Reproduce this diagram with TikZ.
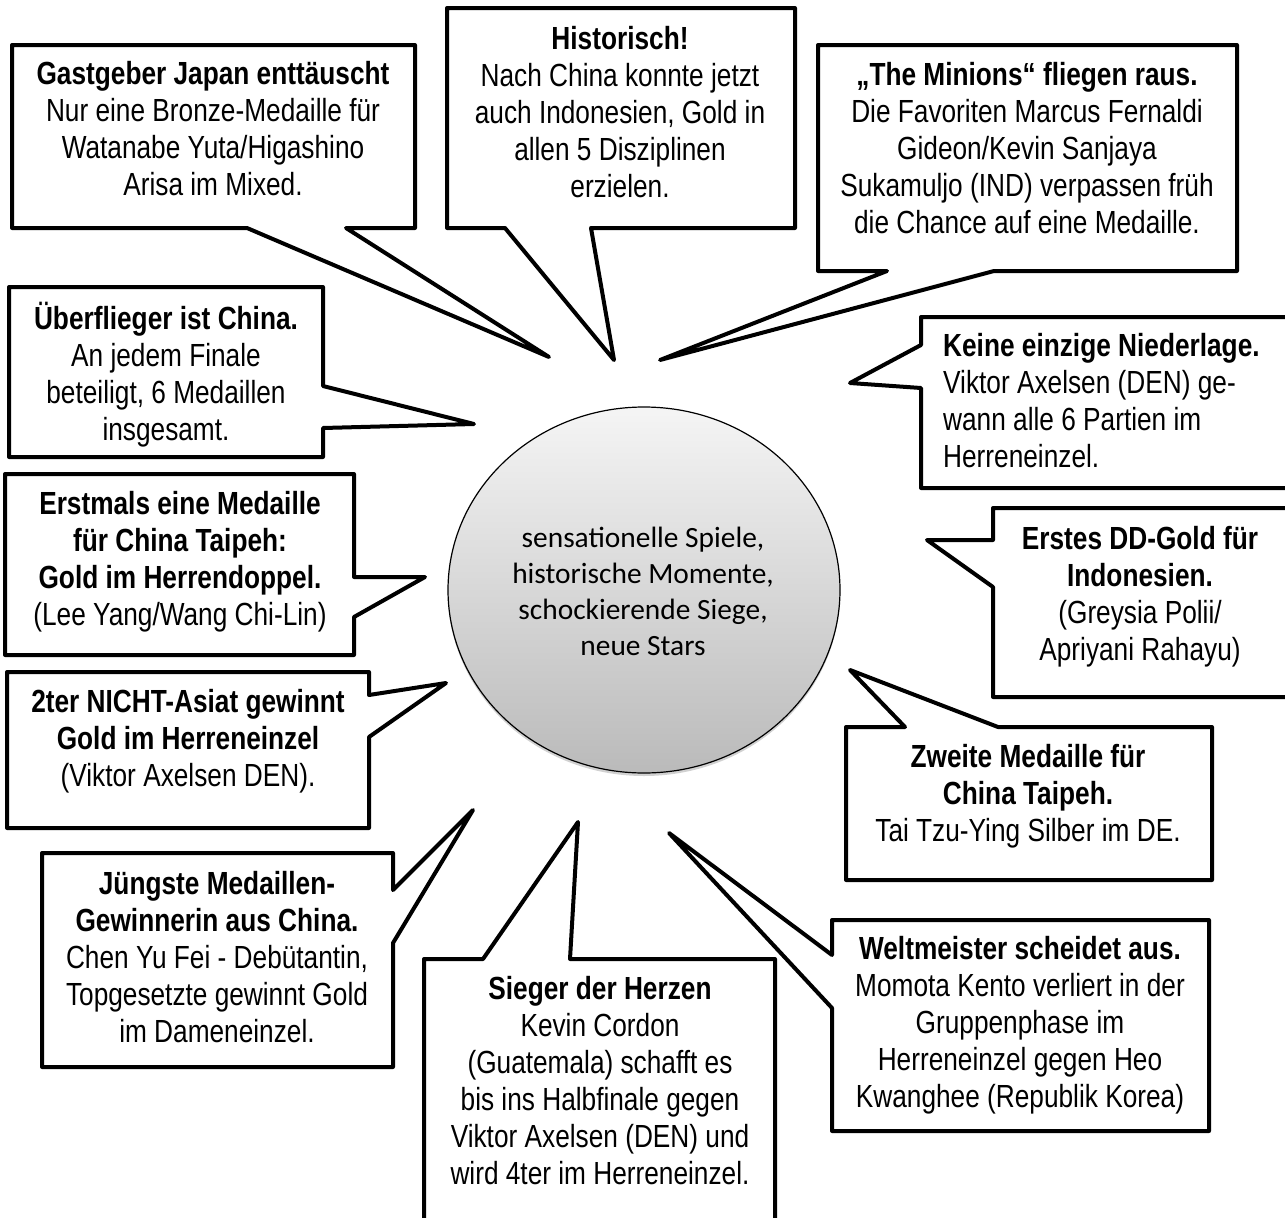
\documentclass[tikz,border=0pt]{standalone}
\usepackage{fontspec}
\setmainfont[FakeStretch=0.82]{Liberation Sans}
\newfontfamily\calib{Carlito}
\usetikzlibrary{shapes.geometric,shadows}
\newcommand{\mytab}[1]{\begin{tabular}[t]{@{}c@{}}#1\end{tabular}}
\newcommand{\mytabl}[1]{\begin{tabular}[t]{@{}l@{}}#1\end{tabular}}
\tikzset{
  bubble/.style={draw=black, line width=4pt, line join=round, fill=white},
  btext/.style={font=\fontsize{32}{37}\selectfont, inner sep=0pt, anchor=base},
  hub/.style={ellipse, draw=black, line width=1.2pt, minimum width=392pt, minimum height=366pt,
    inner sep=0pt, top color=black!4, bottom color=black!27,
    drop shadow={shadow xshift=0pt, shadow yshift=-3pt, opacity=0.18, fill=black}},
  hubtext/.style={font=\calib\fontsize{29.4}{36}\selectfont, inner sep=0pt, anchor=base}
}
\begin{document}
\begin{tikzpicture}[x=1pt,y=-1pt]
\useasboundingbox (0,0) rectangle (1285,1218);
\fill[white] (0,0) rectangle (1285,1218);
\clip (0,0) rectangle (1285,1218);

% central ellipse
\node[hub] (hub) at (644,590) {};
\node[hubtext] (hubt) at (643,547) {\mytab{sensationelle Spiele,\\ historische Momente,\\ schockierende Siege,\\ neue Stars}};

% 1 Gastgeber Japan
\draw[bubble] (12,45) -- (415,45) -- (415,228) -- (346,228) -- (549,357) -- (247,228) -- (12,228) -- cycle;
\node[btext] (t1) at (213,84) {\mytab{\textbf{Gastgeber Japan enttäuscht}\\ Nur eine Bronze-Medaille für\\ Watanabe Yuta/Higashino\\ Arisa im Mixed.}};

% 2 Historisch
\draw[bubble] (447,8) -- (795,8) -- (795,228) -- (591,228) -- (614,360) -- (505,228) -- (447,228) -- cycle;
\node[btext] (t2) at (620,49) {\mytab{\textbf{Historisch!}\\ Nach China konnte jetzt\\ auch Indonesien, Gold in\\ allen 5 Disziplinen\\ erzielen.}};

% 3 Minions
\draw[bubble] (818,45) -- (1237,45) -- (1237,271) -- (994,271) -- (660,360) -- (887,271) -- (818,271) -- cycle;
\node[btext] (t3) at (1027,85) {\mytab{\textbf{„The Minions“ fliegen raus.}\\ Die Favoriten Marcus Fernaldi\\ Gideon/Kevin Sanjaya\\ Sukamuljo (IND) verpassen früh\\ die Chance auf eine Medaille.}};

% 4 Keine einzige Niederlage
\draw[bubble] (921,317) -- (1300,317) -- (1300,488) -- (921,488) -- (921,388) -- (850,383) -- (921,345) -- cycle;
\node[btext, anchor=base west] (t4) at (943,356) {\mytabl{\textbf{Keine einzige Niederlage.}\\ Viktor Axelsen (DEN) ge-\\ wann alle 6 Partien im\\ Herreneinzel.}};

% 5 Erstes DD-Gold
\draw[bubble] (993,508) -- (1300,508) -- (1300,697) -- (993,697) -- (993,587) -- (927,540) -- (993,540) -- cycle;
\node[btext] (t5) at (1140,549) {\mytab{\textbf{Erstes DD-Gold für}\\ \textbf{Indonesien.}\\ (Greysia Polii/\\ Apriyani Rahayu)}};

% 6 Zweite Medaille
\draw[bubble] (846,727) -- (905,727) -- (850,670) -- (998,727) -- (1212,727) -- (1212,880) -- (846,880) -- cycle;
\node[btext] (t6) at (1028,767) {\mytab{\textbf{Zweite Medaille für}\\ \textbf{China Taipeh.}\\ Tai Tzu-Ying Silber im DE.}};

% 7 Weltmeister
\draw[bubble] (832,920) -- (1209,920) -- (1209,1131) -- (832,1131) -- (832,1008) -- (669,833) -- (832,955) -- cycle;
\node[btext] (t7) at (1020,959) {\mytab{\textbf{Weltmeister scheidet aus.}\\ Momota Kento verliert in der\\ Gruppenphase im\\ Herreneinzel gegen Heo\\ Kwanghee (Republik Korea)}};

% 8 Sieger der Herzen
\draw[bubble] (424,1240) -- (424,959) -- (483,959) -- (578,822) -- (570,959) -- (775,959) -- (775,1240) -- cycle;
\node[btext] (t8) at (600,999) {\mytab{\textbf{Sieger der Herzen}\\ Kevin Cordon\\ (Guatemala) schafft es\\ bis ins Halbfinale gegen\\ Viktor Axelsen (DEN) und\\ wird 4ter im Herreneinzel.}};

% 9 Juengste
\draw[bubble] (42,853) -- (393,853) -- (393,890) -- (473,810) -- (393,943) -- (393,1067) -- (42,1067) -- cycle;
\node[btext] (t9) at (217,894) {\mytab{\textbf{Jüngste Medaillen-}\\ \textbf{Gewinnerin aus China.}\\ Chen Yu Fei - Debütantin,\\ Topgesetzte gewinnt Gold\\ im Dameneinzel.}};

% 10 2ter NICHT-Asiat
\draw[bubble] (7,672) -- (369,672) -- (369,695) -- (446,683) -- (369,737) -- (369,828) -- (7,828) -- cycle;
\node[btext] (t10) at (188,712) {\mytab{\textbf{2ter NICHT-Asiat gewinnt}\\ \textbf{Gold im Herreneinzel}\\ (Viktor Axelsen DEN).}};

% 11 Erstmals
\draw[bubble] (5,474) -- (354,474) -- (354,577) -- (425,577) -- (354,617) -- (354,655) -- (5,655) -- cycle;
\node[btext] (t11) at (180,514) {\mytab{\textbf{Erstmals eine Medaille}\\ \textbf{für China Taipeh:}\\ \textbf{Gold im Herrendoppel.}\\ (Lee Yang/Wang Chi-Lin)}};

% 12 Ueberflieger
\draw[bubble] (9,287) -- (323,287) -- (323,386) -- (474,424) -- (323,428) -- (323,457) -- (9,457) -- cycle;
\node[btext] (t12) at (166,329) {\mytab{\textbf{Überflieger ist China.}\\ An jedem Finale\\ beteiligt, 6 Medaillen\\ insgesamt.}};
\end{tikzpicture}
\end{document}
